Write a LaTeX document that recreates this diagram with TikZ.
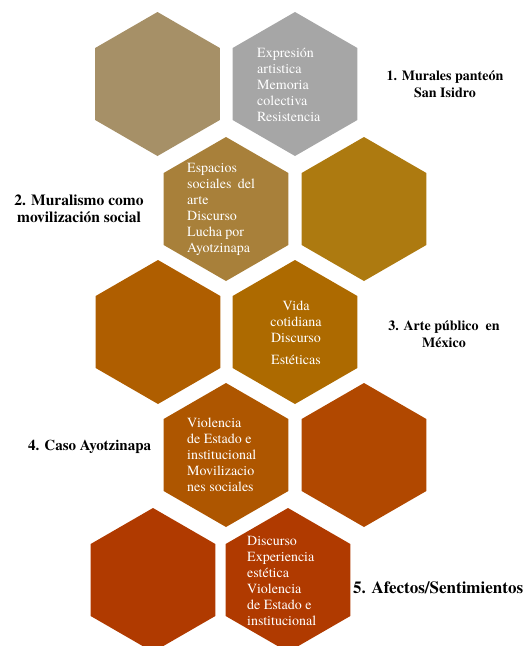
\documentclass[tikz,border=0pt]{standalone}
\usepackage{fontspec}
\setmainfont{texgyretermes}[Extension=.otf,UprightFont=*-regular,BoldFont=*-bold,ItalicFont=*-italic,BoldItalicFont=*-bolditalic]
\usepackage{xcolor}
\usepackage{tikz}
\usetikzlibrary{shapes.geometric}
\definecolor{sand}{HTML}{A69067}
\definecolor{stone}{HTML}{A6A6A6}
\definecolor{ochre}{HTML}{A8803A}
\definecolor{mustard}{HTML}{AD7A10}
\definecolor{rust}{HTML}{AF5E00}
\definecolor{amber}{HTML}{AD6A00}
\definecolor{copper}{HTML}{AE5600}
\definecolor{burnt}{HTML}{B14800}
\definecolor{sienna}{HTML}{B03A00}
\tikzset{
  hexa/.style={regular polygon,regular polygon sides=6,shape border rotate=30,
    minimum size=144pt,inner sep=0pt,outer sep=0pt,fill=#1},
  intext/.style={text=white,inner sep=0pt,align=left,font=\fontsize{14}{16}\selectfont},
  title/.style={inner sep=0pt,align=center,font=\bfseries\fontsize{#1}{17}\selectfont}
}
\begin{document}
\begin{tikzpicture}[x=1pt,y=-1pt]
\useasboundingbox (0,0) rectangle (524,646);
% five rows of hexagons
\node[hexa=sand] (h11) at (157.5,84) {};  \node[hexa=stone] (h12) at (295,84) {};
\node[hexa=ochre] (h21) at (226,209) {};  \node[hexa=mustard] (h22) at (364,209) {};
\node[hexa=rust] (h31) at (158,332) {};   \node[hexa=amber] (h32) at (295,332) {};
\node[hexa=copper] (h41) at (226,455) {}; \node[hexa=burnt] (h42) at (364,455) {};
\node[hexa=sienna] (h51) at (153,580) {}; \node[hexa=sienna] (h52) at (288,580) {};
% texts inside
\node[intext,anchor=west] (t1) at (257,85) {Expresión\\artistica\\Memoria\\colectiva\\Resistencia};
\node[intext,anchor=west] (t2) at (187,209) {Espacios\\sociales\hspace{0.45em}del\\arte\\Discurso\\Lucha por\\Ayotzinapa};
\node[intext,align=center] (t3) at (296,333) {Vida\\cotidiana\\Discurso\\[6pt]Estéticas};
\node[intext,anchor=west] (t4) at (187,455) {Violencia\\de Estado e\\institucional\\Movilizacio\\nes sociales};
\node[intext,anchor=west] (t5) at (247,581) {Discurso\\Experiencia\\estética\\Violencia\\de Estado e\\institucional};
% labels
\node[title=14] (l1) at (445,84) {1. Murales panteón\\San Isidro};
\node[title=15.5] (l2) at (79,209) {2. Muralismo como\\movilización social};
\node[title=14] (l3) at (444,334) {3. Arte público \ en\\México};
\node[title=15,anchor=west] (l4) at (28,447) {4. Caso Ayotzinapa};
\node[title=17,anchor=west] (l5) at (353,588) {5. Afectos/Sentimientos};
\end{tikzpicture}
\end{document}
